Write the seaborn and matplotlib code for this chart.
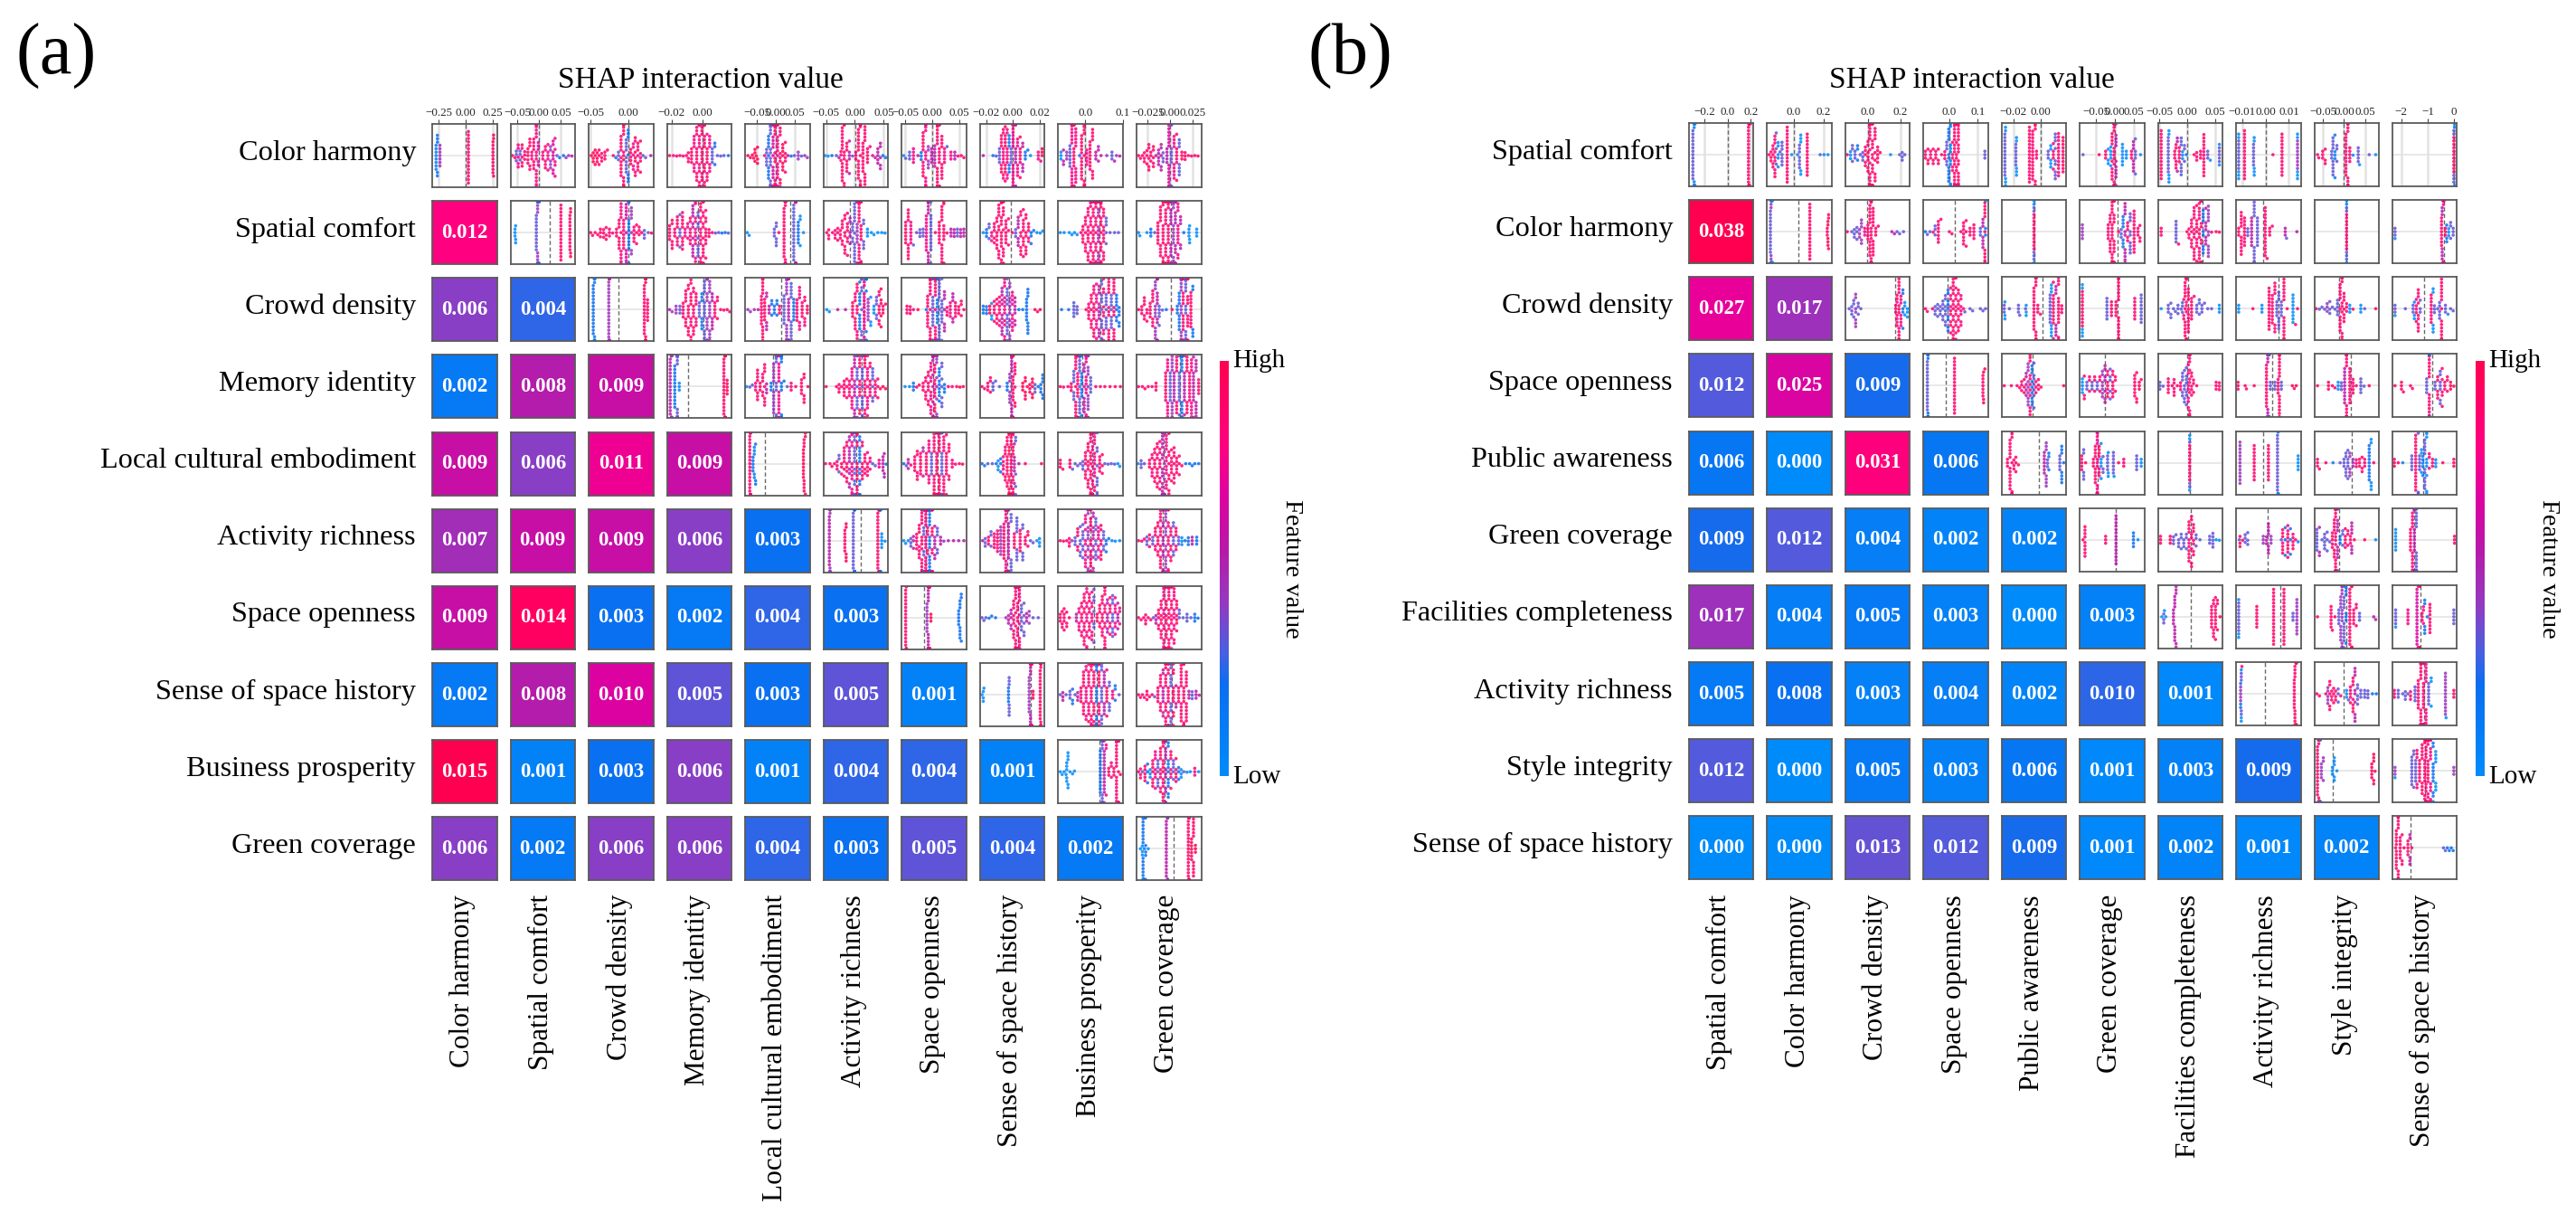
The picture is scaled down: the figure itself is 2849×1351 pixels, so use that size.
"""
SHAP interaction matrices for two models: beeswarms above the diagonal,
mean interaction strength as coloured cells below it.
"""
import warnings

import matplotlib.pyplot as plt
import pandas as pd
import seaborn as sns
from matplotlib.cm import ScalarMappable
from matplotlib.colors import LinearSegmentedColormap, Normalize
from seaborn import categorical, matrix

warnings.filterwarnings("ignore", category=UserWarning)

# swarmplot and heatmap redraw the whole figure on every call, far too slow with
# 90 axes; swarms are laid out at draw time anyway, so one draw at savefig is enough
categorical._draw_figure = lambda fig: None
matrix._draw_figure = lambda fig: None

FEATURES_A = ["Color harmony", "Spatial comfort", "Crowd density", "Memory identity",
              "Local cultural embodiment", "Activity richness", "Space openness",
              "Sense of space history", "Business prosperity", "Green coverage"]
FEATURES_B = ["Spatial comfort", "Color harmony", "Crowd density", "Space openness",
              "Public awareness", "Green coverage", "Facilities completeness",
              "Activity richness", "Style integrity", "Sense of space history"]

# mean interaction strength, lower triangle
HEAT_A = [[],
          [.012],
          [.006, .004],
          [.002, .008, .009],
          [.009, .006, .011, .009],
          [.007, .009, .009, .006, .003],
          [.009, .014, .003, .002, .004, .003],
          [.002, .008, .010, .005, .003, .005, .001],
          [.015, .001, .003, .006, .001, .004, .004, .001],
          [.006, .002, .006, .006, .004, .003, .005, .004, .002]]
HEAT_B = [[],
          [.038],
          [.027, .017],
          [.012, .025, .009],
          [.006, .000, .031, .006],
          [.009, .012, .004, .002, .002],
          [.017, .004, .005, .003, .000, .003],
          [.005, .008, .003, .004, .002, .010, .001],
          [.012, .000, .005, .003, .006, .001, .003, .009],
          [.000, .000, .013, .012, .009, .001, .002, .001, .002]]

# top row axis ranges and their tick labels, real SHAP units
XLIM_A = [(-.312, .292), (-.0652, .0825), (-.0524, .0328), (-.0229, .019), (-.0814, .0904),
          (-.0543, .0578), (-.0562, .0635), (-.0246, .0239), (-.0724, .1009), (-.0371, .0343)]
TICKS_A = [[(-.25, "−0.25"), (0, "0.00"), (.25, "0.25")], [(-.05, "−0.05"), (0, "0.00"), (.05, "0.05")],
           [(-.05, "−0.05"), (0, "0.00")], [(-.02, "−0.02"), (0, "0.00")],
           [(-.05, "−0.05"), (0, "0.00"), (.05, "0.05")], [(-.05, "−0.05"), (0, "0.00"), (.05, "0.05")],
           [(-.05, "−0.05"), (0, "0.00"), (.05, "0.05")], [(-.02, "−0.02"), (0, "0.00"), (.02, "0.02")],
           [(0, "0.0"), (.1, "0.1")], [(-.025, "−0.025"), (0, "0.00"), (.025, "0.025")]]
XLIM_B = [(-.337, .2265), (-.1743, .254), (-.1386, .2574), (-.0916, .1362), (-.0286, .0189),
          (-.0939, .0795), (-.0527, .0636), (-.0126, .0151), (-.07, .082), (-2.333, .115)]
TICKS_B = [[(-.2, "−0.2"), (0, "0.0"), (.2, "0.2")], [(0, "0.0"), (.2, "0.2")],
           [(0, "0.0"), (.2, "0.2")], [(0, "0.0"), (.1, "0.1")], [(-.02, "−0.02"), (0, "0.00")],
           [(-.05, "−0.05"), (0, "0.00"), (.05, "0.05")], [(-.05, "−0.05"), (0, "0.00"), (.05, "0.05")],
           [(-.01, "−0.01"), (0, "0.00"), (.01, "0.01")], [(-.05, "−0.05"), (0, "0.00"), (.05, "0.05")],
           [(-2, "−2"), (-1, "−1"), (0, "0")]]

# one row per list, panels left to right starting on the diagonal.
# each panel: (zero line, [(shap value, n points, feature level 0-9), ...]),
# shap values read as percent of the panel span
A_ROW_0 = [
    (51.6, [(6,8,1),(8,5,2),(12,7,4),(56,16,8),(94,10,8),(95,3,9)]),
    (44, [(3,1,8),(7,1,8),(9,3,3),(12,5,7),(15,3,3),(18,5,8),(22,3,8),(27,5,8),(30,5,8),(33,3,8),(36,7,8),(40,15,7),(43,5,6),(50,3,7),(54,5,8),(58,5,7),(62,5,4),(66,7,6),(69,5,7),(72,1,3),(76,1,2),(82,1,2),(86,1,4),(90,1,4),(95,1,5)]),
    (61.5, [(4,1,9),(7,3,9),(10,3,9),(13,3,9),(16,3,8),(20,3,8),(25,3,8),(29,1,8),(38,1,8),(42,1,2),(46,3,3),(50,11,8),(54,15,8),(58,9,3),(61,7,2),(65,5,8),(69,5,7),(72,7,8),(76,7,8),(80,5,8),(84,1,3),(88,1,3),(96,1,5)]),
    (54.7, [(4,1,8),(10,1,7),(15,1,8),(20,1,8),(25,1,8),(30,1,7),(33,3,8),(38,5,8),(42,7,7),(46,11,8),(50,13,7),(54,13,8),(58,11,8),(62,9,8),(66,7,7),(70,5,3),(74,3,2),(78,1,3),(83,1,3),(88,1,3),(95,1,2)]),
    (47.4, [(4,1,9),(8,1,9),(11,1,9),(13,1,9),(15,3,9),(17,1,9),(19,3,9),(30,1,8),(33,5,3),(36,9,2),(39,15,3),(43,15,6),(46,17,8),(50,17,7),(54,9,8),(58,7,9),(62,5,8),(66,1,5),(71,1,2),(76,1,3),(82,3,4),(87,1,3),(92,1,4),(96,1,4)]),
    (48.8, [(2,1,0),(7,1,0),(13,1,2),(20,1,3),(24,1,5),(27,3,8),(29,13,8),(32,7,8),(36,7,8),(40,5,5),(45,1,3),(50,3,8),(54,13,8),(57,9,8),(61,9,8),(64,9,8),(68,5,8),(72,1,7),(76,1,7),(80,1,5),(84,5,5),(88,5,5),(92,1,2),(96,1,2)]),
    (46.9, [(3,1,0),(6,1,3),(12,3,3),(18,5,7),(25,1,5),(30,3,2),(33,11,8),(37,13,7),(41,5,4),(46,5,5),(51,7,5),(55,15,8),(58,13,8),(62,9,8),(66,5,7),(70,1,3),(76,3,7),(82,3,5),(87,1,7),(92,1,8),(96,1,8)]),
    (50.7, [(5,1,5),(20,1,2),(25,1,3),(30,5,3),(33,7,8),(36,9,8),(39,9,8),(42,9,7),(45,7,2),(48,5,3),(51,17,7),(55,11,5),(58,7,7),(62,7,8),(66,5,5),(70,3,2),(74,1,2),(78,1,0),(90,3,7),(94,1,7),(96,3,9)]),
    (41.8, [(4,3,0),(8,3,5),(13,3,4),(18,7,3),(21,15,7),(24,17,8),(27,11,7),(33,1,2),(36,13,8),(40,9,8),(44,5,7),(49,9,8),(53,7,8),(58,3,5),(62,3,5),(66,1,5),(75,1,4),(83,3,3),(87,1,5),(90,1,4),(95,1,5)]),
    (52.1, [(3,1,8),(6,1,8),(9,1,8),(12,3,8),(16,3,8),(19,5,8),(22,3,8),(26,5,8),(30,1,5),(34,5,5),(38,5,5),(41,3,3),(47,5,5),(50,15,6),(54,9,3),(58,9,7),(62,7,8),(66,7,3),(70,3,8),(75,3,8),(80,1,8),(85,1,8),(90,1,8),(95,1,8)]),
]
A_ROW_1 = [
    (60.6, [(7,3,0),(8,3,0),(40,11,3),(42,13,4),(44,9,2),(78,17,8),(92,11,8),(93,4,9)]),
    (61, [(3,1,8),(6,1,8),(10,1,8),(14,1,8),(18,3,8),(23,3,8),(27,3,8),(32,3,8),(37,1,7),(43,3,8),(47,7,8),(50,11,7),(54,9,8),(58,11,6),(62,15,2),(66,7,4),(70,5,8),(74,3,8),(78,3,8),(82,1,8),(86,3,3),(92,1,3),(97,1,8)]),
    (47.4, [(4,5,8),(8,5,8),(12,3,8),(16,7,8),(20,5,3),(24,9,8),(28,3,7),(32,3,7),(36,7,8),(40,11,5),(44,11,7),(48,9,3),(52,13,8),(56,15,8),(60,9,8),(65,3,8),(70,1,8),(75,1,3),(80,1,3),(85,1,2),(90,1,2),(95,1,3)]),
    (69, [(3,1,0),(6,1,0),(45,3,3),(48,5,3),(52,1,8),(60,15,8),(62,13,8),(75,17,3),(78,15,5),(82,7,2),(85,3,0),(90,1,0)]),
    (41.3, [(5,1,8),(8,3,8),(14,1,8),(18,3,7),(22,3,8),(26,3,8),(29,5,8),(33,7,8),(37,7,8),(41,5,5),(45,5,3),(48,13,3),(52,13,4),(55,17,8),(58,15,8),(62,5,3),(68,3,0),(74,1,0),(78,1,0),(84,1,0),(90,1,0),(95,1,0)]),
    (44, [(6,7,8),(10,9,8),(14,7,7),(18,1,3),(23,1,4),(28,3,3),(33,3,3),(38,11,7),(41,17,5),(45,13,3),(52,1,8),(58,7,8),(62,11,8),(65,9,8),(70,1,8),(76,3,5),(81,3,5),(86,3,3),(91,3,5),(96,3,5)]),
    (47.4, [(5,1,0),(10,3,2),(14,3,3),(18,3,7),(22,5,8),(26,7,8),(29,9,8),(33,13,8),(36,11,8),(40,7,8),(44,3,8),(50,1,8),(55,3,3),(59,7,5),(63,7,8),(67,9,8),(71,7,8),(75,5,8),(79,3,2),(83,1,2),(88,1,0),(93,1,0),(97,1,0)]),
    (63.4, [(3,1,0),(9,1,0),(17,1,0),(21,1,0),(25,1,0),(29,1,0),(35,1,8),(38,5,8),(42,7,8),(46,11,8),(50,13,7),(54,15,8),(58,17,8),(62,17,5),(66,15,8),(70,11,8),(74,5,3),(80,1,3),(87,1,3),(93,1,3)]),
    (53.5, [(3,1,0),(5,1,0),(16,1,0),(22,3,2),(28,1,3),(33,7,8),(37,9,8),(41,13,8),(45,15,8),(49,17,8),(53,17,5),(57,17,4),(60,15,5),(64,11,7),(68,5,5),(73,1,2),(81,3,0),(82,3,0),(93,3,0)]),
]
A_ROW_2 = [
    (46.5, [(7,15,2),(9,12,1),(31,18,4),(32,8,5),(86,15,8),(88,11,9),(91,7,8)]),
    (57, [(4,1,5),(8,1,4),(14,3,4),(20,3,3),(25,5,8),(29,7,8),(33,9,8),(37,11,8),(41,9,8),(45,7,8),(50,5,3),(54,7,2),(58,13,3),(62,17,4),(66,13,4),(70,7,5),(74,5,8),(78,3,8),(83,1,8),(88,1,8),(93,1,8),(97,1,8)]),
    (56, [(4,1,4),(8,1,4),(14,1,4),(20,1,5),(25,9,8),(27,11,8),(30,7,8),(33,5,5),(37,3,5),(41,3,2),(45,3,2),(49,3,2),(53,3,8),(60,9,3),(64,13,4),(67,15,5),(71,11,3),(75,7,2),(80,7,8),(84,7,7),(88,5,8),(92,5,7),(96,3,8)]),
    (62, [(5,1,0),(9,1,0),(22,1,5),(34,1,5),(45,5,8),(49,7,8),(52,9,8),(56,11,2),(59,9,3),(63,15,7),(66,11,2),(69,7,4),(73,3,0),(78,3,0),(82,5,3),(86,7,8),(89,5,9),(92,3,8),(96,1,8)]),
    (57, [(8,3,8),(13,3,8),(18,1,8),(25,1,8),(38,1,2),(40,9,8),(44,15,8),(48,15,3),(52,15,8),(55,15,2),(58,13,3),(62,9,3),(66,7,5),(70,3,8),(75,5,7),(79,5,5),(83,5,8),(88,3,8),(92,3,8),(96,1,8)]),
    (45.5, [(5,3,2),(10,3,2),(15,3,9),(18,3,0),(22,5,8),(26,5,8),(30,7,8),(34,11,5),(38,13,7),(42,13,3),(46,11,4),(50,9,7),(54,7,5),(60,1,2),(66,1,2),(72,7,2),(74,7,2),(85,1,9),(89,1,8),(93,1,9)]),
    (65, [(5,1,2),(16,1,2),(24,5,3),(29,3,3),(43,1,8),(47,5,8),(51,7,8),(55,11,8),(59,9,7),(63,11,5),(67,11,3),(70,9,8),(74,9,3),(78,13,8),(82,9,3),(86,13,8),(90,7,2),(94,5,2)]),
    (53, [(3,1,8),(8,3,8),(12,5,8),(16,3,8),(21,5,8),(25,7,8),(29,11,4),(32,15,5),(35,5,3),(40,1,3),(46,1,2),(55,1,8),(63,3,2),(66,9,2),(69,17,4),(72,17,8),(76,17,3),(79,15,8),(84,11,8),(87,5,2)]),
]
A_ROW_3 = [
    (32, [(5,17,5),(7,11,4),(12,13,2),(16,13,3),(19,3,0),(88,17,8),(90,11,9),(93,5,9)]),
    (43, [(2,1,0),(7,1,3),(11,1,3),(16,3,7),(19,7,8),(23,3,8),(27,5,8),(30,7,8),(33,3,5),(40,3,2),(44,13,4),(48,17,3),(52,17,7),(56,13,2),(60,1,2),(65,1,3),(71,3,8),(78,1,8),(87,5,8),(91,5,8),(97,1,8)]),
    (59, [(4,1,8),(20,1,8),(24,3,8),(28,1,8),(32,5,8),(36,3,8),(40,5,8),(44,9,7),(48,13,5),(52,13,3),(56,11,8),(60,15,3),(64,13,8),(68,11,7),(72,7,8),(76,7,3),(80,5,8),(84,3,8),(88,1,8),(92,1,9),(96,1,9)]),
    (49, [(5,1,0),(12,1,0),(18,3,2),(23,1,8),(27,1,8),(33,3,8),(37,5,8),(41,7,8),(45,11,7),(48,17,5),(51,17,8),(54,17,4),(58,9,2),(62,7,3),(66,3,2),(72,1,8),(78,1,8),(85,1,8),(90,1,9),(95,1,8)]),
    (48, [(3,1,8),(7,1,8),(12,3,8),(16,3,8),(20,3,3),(24,1,3),(30,1,3),(42,3,2),(46,7,4),(49,17,5),(51,17,8),(54,7,8),(66,3,9),(70,5,9),(73,1,8),(77,3,9),(81,5,9),(85,3,3),(90,1,2),(94,3,2),(97,5,2)]),
    (37, [(3,1,8),(8,1,8),(15,1,8),(20,3,8),(24,7,3),(27,11,8),(30,15,8),(33,13,3),(36,9,2),(40,9,5),(43,17,7),(46,15,4),(50,5,3),(58,1,8),(65,1,8),(72,1,8),(80,1,8),(88,1,8),(96,1,8)]),
    (67, [(3,1,8),(9,1,8),(13,1,8),(18,1,8),(24,1,8),(30,3,8),(45,9,8),(48,9,7),(52,9,3),(55,11,4),(58,9,5),(62,9,8),(66,11,3),(70,17,2),(74,11,5),(78,9,8),(82,9,8),(85,9,7),(88,11,5),(92,9,5),(96,5,8)]),
]
A_ROW_4 = [
    (30, [(7,17,8),(8,15,7),(12,5,2),(14,5,1),(16,3,2),(90,9,9),(91,7,8),(93,3,9)]),
    (50, [(3,1,8),(10,1,8),(13,1,8),(17,1,8),(21,3,8),(24,3,3),(28,3,8),(32,7,8),(36,7,8),(40,11,5),(44,13,7),(48,15,3),(52,13,8),(56,13,2),(60,7,8),(64,5,8),(68,5,8),(72,3,7),(76,1,3),(80,1,3),(86,3,7),(92,5,5),(94,3,5),(97,1,2)]),
    (55, [(3,1,2),(7,1,3),(10,3,5),(14,1,8),(20,5,8),(24,5,8),(29,7,8),(33,3,5),(38,7,8),(42,7,7),(46,7,3),(50,13,8),(54,15,8),(58,15,8),(62,13,3),(65,11,8),(69,9,8),(73,5,8),(78,3,7),(83,1,8),(89,1,8),(94,1,8)]),
    (48, [(3,1,2),(7,1,2),(12,1,3),(19,1,3),(25,1,2),(28,3,0),(32,3,2),(36,5,8),(39,5,8),(42,11,8),(45,15,9),(48,17,8),(51,17,8),(53,7,5),(55,5,3),(60,1,5),(70,1,8),(95,1,8)]),
    (52, [(3,3,8),(7,1,8),(18,3,8),(22,1,3),(26,1,3),(30,1,3),(34,1,3),(38,3,3),(42,7,8),(46,9,8),(50,15,8),(53,17,8),(56,13,7),(60,9,3),(64,5,8),(68,3,8),(72,1,3),(77,1,3),(82,1,3),(87,1,3),(92,1,0),(95,1,0)]),
    (42, [(2,1,0),(7,3,3),(12,1,3),(20,3,8),(24,5,8),(28,7,8),(32,9,8),(36,9,8),(40,17,5),(43,17,4),(46,13,7),(50,9,8),(54,7,8),(58,7,8),(62,5,8),(66,3,8),(70,1,8),(76,1,2),(82,1,2),(86,1,2),(90,1,2),(96,1,2)]),
]
A_ROW_5 = [
    (57, [(9,15,5),(10,9,4),(33,7,8),(35,5,9),(46,17,3),(48,9,2),(84,17,8),(86,9,8),(88,7,2),(90,5,0),(95,1,0)]),
    (37, [(3,1,0),(6,1,0),(10,1,0),(14,3,3),(18,3,5),(23,5,8),(27,7,8),(31,15,8),(34,17,3),(37,17,7),(40,17,8),(43,17,2),(47,13,8),(51,7,5),(55,5,3),(60,3,5),(65,1,4),(72,1,5),(80,1,5),(88,1,5),(96,1,5)]),
    (42, [(4,1,5),(8,3,3),(13,3,8),(17,3,3),(22,5,8),(27,7,8),(32,9,4),(37,11,8),(40,15,7),(44,17,5),(48,7,3),(53,5,8),(57,9,3),(62,7,8),(66,5,3),(70,3,8),(74,3,8),(78,1,3),(82,1,3),(88,1,0),(92,3,0)]),
    (49, [(3,1,8),(8,1,8),(13,1,8),(17,3,8),(21,1,4),(26,3,3),(30,5,8),(34,5,3),(38,7,3),(42,11,7),(46,13,4),(50,15,8),(54,11,5),(58,9,3),(62,7,7),(66,7,8),(70,5,3),(74,3,2),(78,1,2),(83,1,0),(88,1,0),(95,1,0)]),
    (41, [(3,1,8),(8,1,8),(12,1,8),(16,3,3),(20,3,8),(25,3,3),(29,5,8),(33,7,8),(37,13,8),(41,17,5),(45,15,4),(49,11,8),(53,7,8),(57,7,3),(61,5,8),(65,3,3),(70,3,0),(75,1,2),(80,3,2),(86,3,5),(93,3,2)]),
]
A_ROW_6 = [
    (35, [(6,17,8),(7,3,8),(39,9,4),(41,15,5),(43,13,8),(45,3,9),(88,5,2),(90,7,2),(92,3,2)]),
    (58.6, [(3,1,3),(6,1,3),(9,1,3),(14,1,2),(18,1,2),(24,1,2),(40,1,4),(44,3,5),(48,5,5),(52,9,8),(55,17,8),(58,17,8),(61,13,7),(64,7,3),(68,5,3),(72,3,5),(76,3,4),(82,1,3),(90,1,3)]),
    (55.6, [(3,3,8),(6,3,8),(9,5,8),(13,3,8),(17,1,8),(28,3,5),(32,5,7),(36,7,8),(40,11,8),(44,11,7),(48,9,8),(52,9,7),(55,7,3),(60,3,8),(64,5,8),(68,9,8),(72,17,8),(76,7,5),(80,7,8),(84,9,3),(88,7,7),(92,5,5),(95,3,7)]),
    (43.5, [(3,1,8),(7,1,8),(11,1,8),(14,3,8),(18,1,8),(22,1,8),(26,1,3),(30,3,5),(34,5,8),(38,9,8),(42,15,7),(46,17,8),(50,17,8),(54,13,8),(58,11,7),(62,7,8),(66,3,3),(72,1,3),(78,3,3),(84,1,3),(90,3,2),(95,1,2)]),
]
A_ROW_7 = [
    (78, [(3,1,0),(5,3,0),(6,1,0),(44,5,2),(45,7,3),(76,11,4),(78,17,5),(80,9,8),(82,3,9),(93,15,8),(94,15,8)]),
    (59.5, [(3,1,3),(7,3,5),(12,1,3),(18,3,3),(22,3,2),(26,1,3),(30,3,5),(35,5,8),(39,9,8),(43,9,7),(47,11,8),(51,13,8),(55,13,8),(59,15,2),(63,13,8),(67,11,3),(71,9,5),(75,7,8),(79,5,3),(84,3,7),(88,3,2),(94,1,3)]),
    (54.7, [(3,1,8),(6,1,8),(9,1,8),(12,1,8),(16,3,8),(20,1,8),(24,1,8),(28,1,3),(33,5,8),(37,7,8),(41,9,5),(45,13,8),(49,15,8),(53,13,3),(57,11,8),(61,3,5),(65,5,8),(69,13,8),(73,15,8),(77,11,8),(81,3,5),(86,3,3),(92,3,5),(97,1,5)]),
]
A_ROW_8 = [
    (63, [(3,1,0),(6,1,0),(9,1,0),(12,1,0),(13,5,0),(15,5,0),(18,1,0),(22,1,0),(25,1,0),(65,13,2),(68,17,3),(71,15,5),(74,3,7),(78,3,8),(82,3,8),(86,3,8),(90,17,8),(93,11,8),(96,1,9)]),
    (43.5, [(3,1,8),(6,3,8),(9,1,3),(13,5,8),(17,3,2),(21,3,0),(25,7,8),(29,7,7),(33,7,3),(37,9,8),(41,13,8),(45,15,5),(49,11,2),(53,7,8),(57,5,3),(61,5,8),(65,3,2),(69,3,0),(73,1,3),(78,1,0),(83,1,0),(90,3,7),(96,1,0)]),
]
A_ROW_9 = [
    (57.5, [(6,1,0),(9,3,0),(10,15,2),(12,11,1),(14,5,2),(18,1,0),(46,17,5),(48,7,4),(80,17,8),(81,9,8),(85,7,9),(88,11,8),(91,3,9)]),
]

B_ROW_0 = [
    (59.8, [(6,15,3),(8,9,1),(9,5,0),(92,17,8),(93,13,8),(95,1,8)]),
    (40.7, [(3,1,8),(6,3,8),(9,5,8),(12,9,8),(14,3,3),(17,5,0),(20,1,3),(23,7,3),(31,17,8),(38,1,0),(47,1,0),(50,7,3),(52,5,0),(62,13,8),(82,1,3),(88,1,0),(94,1,0)]),
    (35, [(3,1,8),(8,3,0),(11,3,3),(15,3,3),(19,3,2),(23,1,3),(27,3,3),(31,5,8),(35,7,8),(38,17,8),(42,15,8),(46,9,8),(50,5,8),(54,1,8),(70,1,0),(84,1,3),(88,3,3),(92,1,3)]),
    (40.2, [(3,3,8),(7,3,8),(11,3,8),(15,3,8),(19,3,8),(23,3,8),(28,1,8),(33,3,8),(36,5,3),(39,11,2),(42,9,0),(45,5,8),(48,17,8),(51,15,8),(54,17,8),(95,3,3)]),
    (60.3, [(5,13,3),(6,5,0),(22,7,3),(23,5,0),(43,17,8),(48,15,8),(52,5,8),(54,3,8),(72,3,3),(76,5,0),(80,5,8),(83,9,3),(88,13,8),(95,11,8)]),
    (54, [(5,1,3),(30,1,8),(40,3,8),(44,3,0),(48,5,0),(50,9,8),(53,17,8),(56,11,5),(66,7,0),(72,3,0),(80,3,8),(83,7,5),(86,5,3),(94,1,0)]),
    (45.5, [(5,15,8),(16,11,3),(17,5,0),(26,3,8),(28,5,8),(30,3,5),(33,5,8),(36,7,3),(38,3,0),(41,3,3),(44,1,2),(56,1,8),(60,3,8),(66,3,8),(71,13,8),(77,3,3),(81,1,0),(95,5,3),(95,2,0)]),
    (45.5, [(4,9,3),(4,5,0),(13,15,8),(27,7,3),(28,5,0),(57,1,8),(71,13,8),(95,9,4),(95,5,0)]),
    (46, [(5,1,8),(7,1,8),(13,3,8),(17,3,8),(27,3,3),(29,9,3),(32,5,1),(35,3,3),(49,13,8),(52,9,8),(55,5,8),(60,1,0),(68,5,3),(70,1,0),(85,1,3),(95,1,0)]),
    (95.3, [(95,11,8),(95,5,3),(96,3,0)]),
]
B_ROW_1 = [
    (48.7, [(5,13,3),(6,7,4),(7,5,1),(8,3,0),(66,17,8),(93,3,8),(94,5,9),(95,3,8)]),
    (34, [(3,1,8),(10,1,3),(14,3,3),(18,3,3),(22,3,4),(25,5,4),(30,3,7),(35,5,8),(38,11,8),(40,17,8),(43,11,8),(47,3,8),(51,1,8),(72,1,5),(76,1,5),(80,1,3),(84,1,3),(90,1,3)]),
    (48, [(3,1,2),(6,1,3),(10,1,3),(15,1,8),(18,3,3),(23,7,8),(27,1,8),(40,1,8),(44,1,8),(58,1,8),(62,7,8),(66,3,8),(72,3,8),(78,5,8),(88,3,3),(92,7,5),(95,11,8),(96,3,2)]),
    (50, [(50,11,8),(50,5,3),(50,3,0)]),
    (58, [(4,5,4),(44,5,8),(47,7,8),(50,13,8),(53,17,8),(60,1,8),(64,3,3),(67,7,2),(70,11,5),(74,5,8),(78,9,3),(84,13,8),(90,3,8),(93,3,8)]),
    (69, [(5,3,8),(28,7,3),(32,1,8),(45,1,8),(48,3,8),(52,7,8),(56,11,8),(60,9,8),(64,13,8),(67,15,8),(70,9,2),(74,7,5),(78,11,4),(83,1,8),(90,1,8),(95,1,8)]),
    (42, [(4,3,8),(8,11,8),(13,9,8),(18,3,3),(24,9,5),(28,11,3),(33,9,3),(45,15,8),(48,1,8),(52,3,8),(56,1,8),(76,3,5),(78,1,3),(94,1,5)]),
    (50, [(50,11,8),(50,5,3),(50,3,0)]),
    (80, [(4,3,3),(4,1,0),(76,9,8),(77,7,5),(79,15,7),(82,3,8),(84,3,2),(87,3,0),(90,3,3),(94,3,3)]),
]
B_ROW_2 = [
    (77, [(6,1,3),(10,3,3),(13,3,3),(16,7,4),(20,3,3),(24,1,3),(78,3,8),(80,7,8),(83,13,8),(86,7,7),(89,5,2),(92,3,0),(96,3,0)]),
    (37, [(3,1,8),(6,1,8),(14,1,8),(18,3,3),(22,3,3),(26,3,3),(30,5,3),(34,7,3),(38,9,2),(42,9,8),(46,15,8),(50,13,8),(54,9,8),(58,7,7),(62,1,8),(64,1,3),(72,1,3),(76,1,3),(88,1,3),(92,1,3),(96,1,3)]),
    (63, [(4,3,3),(5,3,0),(12,1,3),(26,3,3),(28,1,3),(37,1,3),(38,3,0),(50,13,8),(53,13,8),(56,3,8),(60,1,8),(75,9,3),(77,7,0),(80,11,8),(84,7,5),(88,13,8),(93,3,8)]),
    (59, [(4,11,8),(4,5,0),(42,7,3),(49,5,8),(56,5,8),(60,17,8),(85,7,8),(95,9,3)]),
    (46.5, [(5,1,0),(16,3,3),(20,3,3),(24,1,3),(27,1,3),(31,3,3),(36,1,3),(38,3,3),(40,3,8),(42,11,8),(44,15,8),(47,11,8),(52,7,8),(56,1,8),(60,3,3),(64,3,3),(68,3,3),(72,1,3),(77,1,3),(83,1,3),(95,3,0)]),
    (66, [(4,3,0),(26,1,8),(40,3,0),(51,13,8),(56,9,8),(60,7,8),(63,5,3),(66,7,3),(70,5,3),(74,15,8),(79,1,8),(88,9,0),(92,1,8),(95,1,8)]),
    (39, [(3,1,8),(8,1,3),(12,1,3),(16,1,3),(20,3,4),(24,3,3),(28,1,3),(32,1,3),(36,5,3),(40,11,8),(43,9,8),(46,7,8),(50,3,8),(55,3,0),(60,1,8),(72,3,0),(78,1,3),(95,1,8)]),
    (49, [(4,3,3),(4,1,0),(20,1,3),(32,3,3),(34,3,0),(37,5,8),(40,9,8),(43,3,3),(60,9,8),(63,5,0),(65,3,3),(70,1,3),(73,5,3),(76,15,8),(82,3,3),(86,1,0),(90,1,3),(94,1,3)]),
]
B_ROW_3 = [
    (35, [(6,15,3),(7,9,2),(48,17,8),(92,7,8),(93,3,9),(95,1,9)]),
    (48, [(4,1,8),(15,1,8),(24,1,8),(28,1,8),(31,3,8),(35,3,8),(38,5,5),(41,9,4),(44,11,8),(47,9,2),(50,7,3),(53,3,8),(57,3,8),(61,1,8),(96,1,8)]),
    (39, [(4,5,0),(7,3,8),(11,3,3),(15,3,8),(19,3,3),(23,3,8),(27,3,3),(31,3,8),(35,7,4),(39,7,5),(43,7,8),(47,5,3),(51,7,8),(55,3,8),(85,7,8),(88,3,8),(92,3,9),(95,1,8)]),
    (45, [(3,3,3),(8,1,3),(16,5,8),(22,1,8),(25,5,8),(30,1,8),(35,3,8),(38,5,3),(41,5,3),(44,7,3),(47,7,7),(49,17,8),(52,5,8),(55,3,8),(60,1,8),(90,3,8),(95,3,8)]),
    (56, [(3,3,8),(14,1,8),(16,1,8),(28,1,8),(47,13,8),(49,9,5),(51,5,3),(53,3,3),(60,3,3),(65,5,8),(67,15,8),(70,3,3),(87,1,9),(90,1,9),(93,1,9)]),
    (57, [(5,1,8),(22,3,8),(28,1,8),(32,1,8),(37,3,0),(42,3,3),(47,11,5),(50,13,8),(55,11,8),(60,5,8),(65,1,8),(72,5,3),(77,1,3),(85,1,8)]),
    (62, [(4,1,8),(14,3,8),(17,1,8),(28,1,8),(31,1,8),(53,5,3),(57,17,8),(57,3,2),(66,3,3),(70,5,8),(74,7,3),(77,5,8),(81,3,8),(85,3,8),(90,3,9),(95,1,9)]),
]
B_ROW_4 = [
    (57, [(9,3,8),(13,13,8),(16,7,8),(19,3,8),(22,3,8),(26,1,8),(66,7,5),(69,7,4),(71,3,3),(73,3,2),(90,5,3),(93,7,2),(96,1,2)]),
    (28, [(3,5,8),(6,5,3),(9,1,8),(21,3,8),(24,9,8),(27,17,7),(30,7,8),(33,5,0),(36,3,3),(43,5,3),(44,3,0),(52,7,3),(53,1,0),(60,1,9),(68,3,8),(88,5,3),(95,3,0)]),
    (49, [(49,11,8),(49,3,3),(49,3,0)]),
    (42, [(6,13,4),(28,11,8),(50,11,8),(64,17,3),(65,5,0),(96,5,0)]),
    (58, [(5,3,8),(8,1,8),(18,1,8),(29,1,1),(40,1,3),(46,3,3),(49,5,3),(52,5,3),(55,5,4),(60,3,4),(65,3,8),(70,3,8),(74,3,8),(78,3,8),(85,11,2),(88,5,0),(92,1,8)]),
    (48, [(3,3,8),(9,1,8),(16,1,1),(30,5,3),(36,17,8),(40,3,3),(42,5,3),(45,3,0),(47,5,1),(50,11,3),(53,9,0),(57,3,8),(62,3,8),(67,3,0),(78,1,8),(95,3,8)]),
]
B_ROW_5 = [
    (56, [(5,1,8),(8,9,8),(40,3,8),(56,15,5),(83,5,2),(90,1,0)]),
    (51, [(4,3,8),(19,3,8),(24,3,3),(28,1,3),(32,3,3),(36,3,3),(40,3,3),(44,3,3),(48,11,8),(52,7,8),(55,7,8),(59,3,3),(65,1,3),(80,3,3),(85,5,3),(90,1,0),(95,1,0)]),
    (49, [(5,1,3),(6,3,8),(10,1,8),(14,3,3),(18,3,3),(42,3,4),(47,3,5),(50,7,5),(54,3,4),(70,1,3),(72,7,8),(76,3,2),(80,9,8),(84,3,2),(88,5,8),(92,1,8),(96,1,0)]),
    (39, [(4,7,3),(8,3,5),(12,1,3),(16,5,3),(20,3,3),(24,1,3),(28,5,8),(31,7,8),(33,15,8),(36,11,5),(40,3,2),(44,3,3),(48,5,8),(52,3,8),(56,3,8),(58,7,5),(62,1,8),(78,1,8),(95,1,0)]),
    (34, [(5,7,0),(28,7,8),(31,11,8),(34,17,5),(37,17,3),(96,3,8)]),
]
B_ROW_6 = [
    (51, [(6,1,0),(9,3,3),(10,1,0),(12,1,0),(24,5,5),(26,9,5),(28,5,5),(83,7,8),(86,5,8),(89,9,8),(92,3,8),(96,1,9)]),
    (68, [(4,9,3),(4,3,0),(32,7,8),(58,17,8),(74,17,8),(88,3,3),(94,11,4)]),
    (50, [(5,1,8),(26,7,8),(28,1,8),(32,1,8),(38,5,3),(41,9,4),(43,11,4),(46,13,3),(49,7,2),(55,17,8),(58,5,8),(61,5,8),(65,3,8),(70,3,3),(92,1,5),(95,1,5)]),
    (44, [(5,5,3),(5,1,0),(24,5,7),(38,17,6),(40,3,8),(42,5,8),(46,3,8),(48,3,7),(50,5,2),(54,1,2),(58,9,8),(95,5,3)]),
]
B_ROW_7 = [
    (45, [(7,5,4),(7,3,2),(8,5,3),(8,3,0),(9,1,8),(90,9,8),(91,9,8),(93,5,9)]),
    (46, [(4,1,8),(8,1,8),(18,1,8),(21,5,4),(24,5,8),(27,3,8),(30,3,8),(33,3,8),(37,3,3),(41,1,8),(50,3,0),(53,1,3),(56,5,8),(60,7,8),(63,9,5),(67,5,3),(72,3,3),(78,3,3),(83,3,3),(90,1,2),(96,1,2)]),
    (49, [(3,3,8),(9,3,3),(16,1,3),(20,3,3),(24,1,3),(28,3,8),(35,5,3),(40,9,8),(44,17,8),(48,17,8),(52,11,7),(56,7,3),(60,3,0),(82,13,4),(83,1,0),(95,3,8)]),
]
B_ROW_8 = [
    (29, [(5,15,8),(7,9,8),(9,7,3),(11,5,4),(14,3,4),(28,3,0),(31,5,0),(35,1,0),(89,5,9),(92,5,9),(94,1,8)]),
    (50, [(4,3,4),(4,1,0),(30,9,3),(33,3,3),(36,7,3),(38,5,8),(42,7,8),(46,9,8),(50,11,8),(52,17,8),(55,15,8),(59,13,7),(63,11,2),(67,7,0),(95,3,4)]),
]
B_ROW_9 = [
    (28.5, [(5,1,8),(6,11,8),(9,9,8),(12,7,8),(15,3,8),(18,1,8),(24,5,8),(27,5,5),(30,1,8),(79,1,3),(82,1,3),(85,1,2),(88,1,2),(91,1,2),(94,1,2)]),
]

SWARMS_A = [A_ROW_0, A_ROW_1, A_ROW_2, A_ROW_3, A_ROW_4, A_ROW_5, A_ROW_6, A_ROW_7, A_ROW_8, A_ROW_9]
SWARMS_B = [B_ROW_0, B_ROW_1, B_ROW_2, B_ROW_3, B_ROW_4, B_ROW_5, B_ROW_6, B_ROW_7, B_ROW_8, B_ROW_9]

W, H = 2849, 1351
FONT = "Liberation Serif"
FRAME = "#5a5a5a"

shap_cmap = LinearSegmentedColormap.from_list("shap_red_blue", [
    (0.00, "#008bfb"), (0.22, "#0a6ef0"), (0.30, "#4a5fe0"), (0.42, "#9638c0"),
    (0.55, "#b818a8"), (0.68, "#e000a0"), (0.80, "#ff0080"), (1.00, "#ff0051")])


def add_px_axes(fig, x, y, w, h):
    return fig.add_axes([x / W, 1 - (y + h) / H, w / W, h / H])


def put_text(fig, x, y, s, **kw):
    fig.text(x / W, 1 - y / H, s, family=FONT, color="black", **kw)


def frame(ax):
    for sp in ax.spines.values():
        sp.set_visible(True)
        sp.set_color(FRAME)
        sp.set_linewidth(1.3)


def draw_heat(ax, value, vmax):
    sns.heatmap([[value]], ax=ax, cmap=shap_cmap, vmin=0, vmax=vmax, annot=True, fmt=".3f",
                cbar=False, xticklabels=False, yticklabels=False,
                annot_kws={"family": FONT, "weight": "bold", "size": 16.5, "color": "white"})
    frame(ax)


def draw_swarm(ax, zero, clusters, xlim=None, ticks=None):
    xs, levels = [], []
    for x, n, level in clusters:
        xs += [x] * n
        levels += [level] * n
    df = pd.DataFrame({"value": xs, "level": levels, "row": "r"})
    ax.axhline(0, color="#e6e6e6", lw=1.3, zorder=0)
    if ticks:
        lo, hi = xlim
        pos = [(v - lo) / (hi - lo) * 100 for v, _ in ticks]
        for p in pos:
            ax.axvline(p, color="#e2e2e2", lw=1.8, zorder=0)
    ax.axvline(zero, color="#6a6a6a", ls=(0, (3.2, 2)), lw=1.0, zorder=1)
    sns.swarmplot(data=df, x="value", y="row", hue="level", palette=shap_cmap, hue_norm=(0, 9),
                  orient="h", size=2.6, linewidth=0, alpha=0.85, legend=False,
                  warn_thresh=1, ax=ax, zorder=2)
    ax.set_xlim(0, 100)
    # seaborn keeps a swarm within +-0.4 of its category
    ax.set_ylim(0.41, -0.41)
    ax.set_xlabel("")
    ax.set_ylabel("")
    ax.set_yticks([])
    if ticks:
        ax.set_xticks(pos, [t for _, t in ticks])
        ax.tick_params(axis="x", top=True, labeltop=True, bottom=False, labelbottom=False,
                       length=3.5, width=0.8, color="#444444", pad=1, labelsize=9.4)
        for lab in ax.get_xticklabels():
            lab.set_family(FONT)
    else:
        ax.set_xticks([])
    frame(ax)


def draw_matrix(fig, features, heat, swarms, xlims, ticks, x0, y0, dx, dy):
    vmax = max(max(r) for r in heat if r)
    cw, ch = 71.5, 70
    for r in range(10):
        yc = y0 + r * dy
        put_text(fig, x0 - 18, yc + ch / 2 - 3, features[r], ha="right", va="center", size=23.2)
        for c in range(10):
            ax = add_px_axes(fig, x0 + c * dx, yc, cw, ch)
            if c < r:
                draw_heat(ax, heat[r][c], vmax)
            else:
                zero, clusters = swarms[r][c - r]
                if r == 0:
                    draw_swarm(ax, zero, clusters, xlims[c], ticks[c])
                else:
                    draw_swarm(ax, zero, clusters)
    for c in range(10):
        put_text(fig, x0 + c * dx + cw / 2 - 2, 989, features[c], rotation=90,
                 ha="center", va="top", size=22.5)


def draw_colorbar(fig, x, y_top, y_bot):
    cax = add_px_axes(fig, x, y_top, 10, y_bot - y_top)
    cb = fig.colorbar(ScalarMappable(Normalize(0, 1), shap_cmap), cax=cax, ticks=[])
    cb.outline.set_visible(False)
    put_text(fig, x + 14, y_top, "High", ha="left", va="center", size=21)
    put_text(fig, x + 14, y_bot + 1, "Low", ha="left", va="center", size=21)
    put_text(fig, x + 80, (y_top + y_bot) / 2, "Feature value", rotation=270,
             ha="center", va="center", size=20.5)


def main():
    sns.set_theme(style="white")
    plt.rcParams["font.family"] = [FONT, "DejaVu Sans"]
    fig = plt.figure(figsize=(W / 100, H / 100), dpi=100, facecolor="white")

    draw_matrix(fig, FEATURES_A, HEAT_A, SWARMS_A, XLIM_A, TICKS_A, 478, 137, 86.56, 85.15)
    draw_matrix(fig, FEATURES_B, HEAT_B, SWARMS_B, XLIM_B, TICKS_B, 1868, 136, 86.44, 85.15)
    draw_colorbar(fig, 1349, 399, 858)
    draw_colorbar(fig, 2738, 399, 858)

    put_text(fig, 775, 89, "SHAP interaction value", ha="center", va="center", size=24)
    put_text(fig, 2181, 89, "SHAP interaction value", ha="center", va="center", size=24)
    put_text(fig, 62, 62, "(a)", ha="center", va="center", size=58)
    put_text(fig, 1493, 62, "(b)", ha="center", va="center", size=58)

    fig.savefig("out.png", dpi=100)
    plt.close(fig)


if __name__ == "__main__":
    main()
